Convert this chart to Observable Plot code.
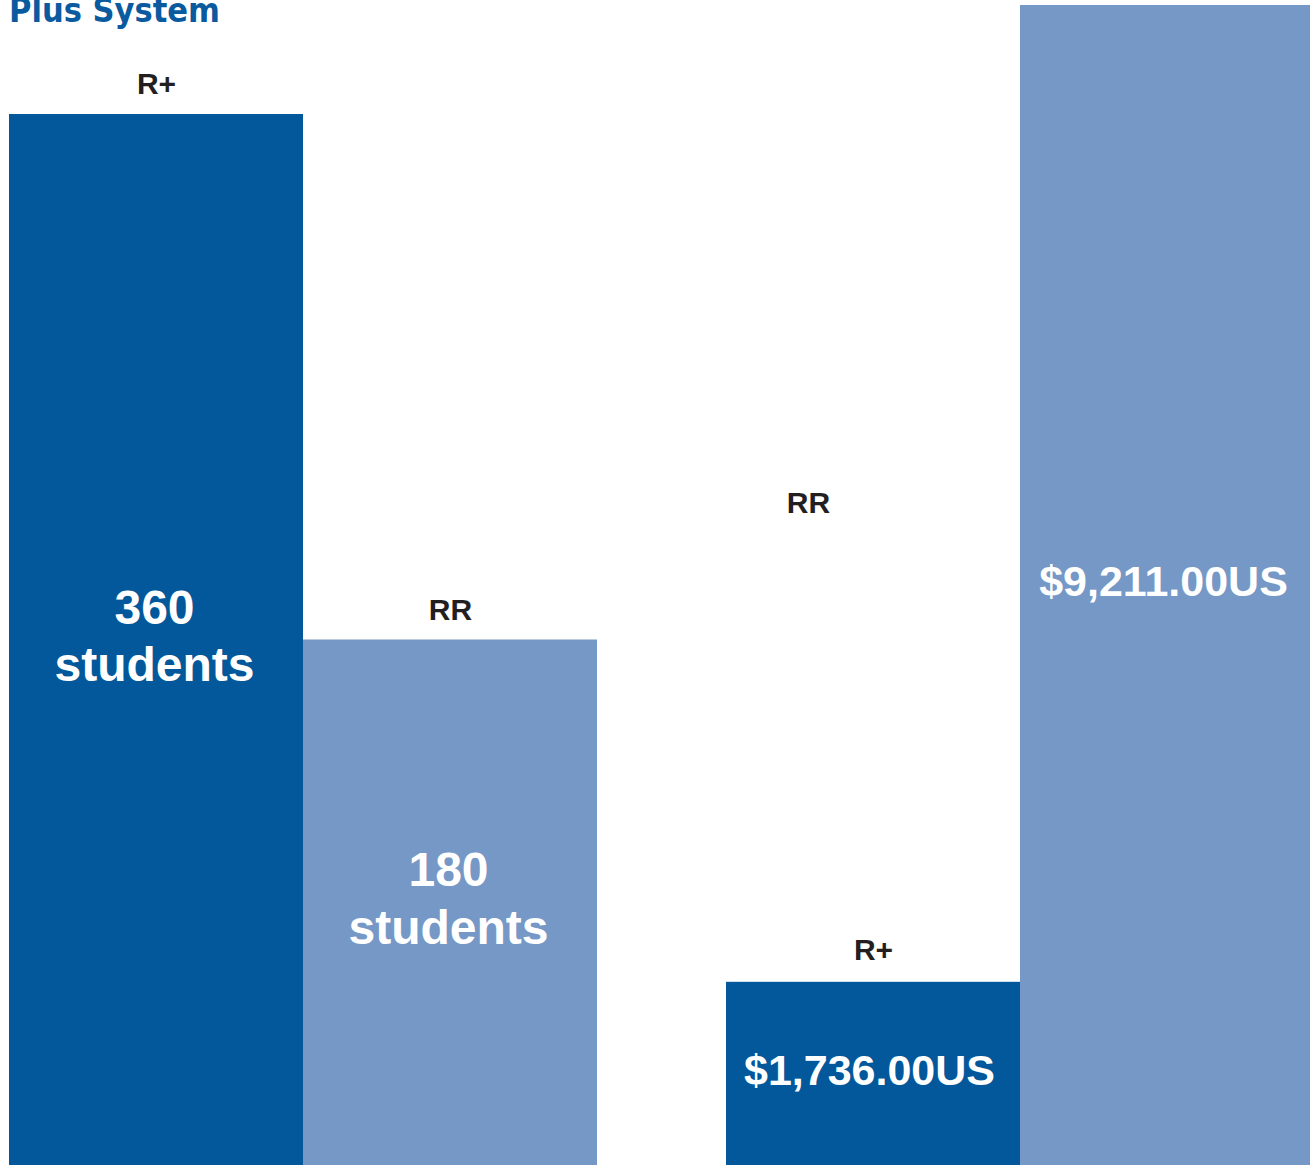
<!DOCTYPE html>
<html>
<head>
<meta charset="utf-8">
<script src="https://cdn.jsdelivr.net/npm/d3@7"></script>
<script src="https://cdn.jsdelivr.net/npm/@observablehq/plot@0.6"></script>
<style>
  html, body { margin: 0; padding: 0; background: #fff; overflow: hidden; }
  #wrap { position: relative; width: 1310px; height: 1165px; display: flex; overflow: hidden; }
  #wrap svg { flex: none; display: block; }
  #title { position: absolute; left: 9px; top: -8px; font: bold 34px "DejaVu Sans Condensed", "Liberation Sans Narrow", sans-serif;
           letter-spacing: 0px; line-height: 36px; color: #0a5aa0; white-space: nowrap; z-index: 2; }
</style>
</head>
<body>
<div id="wrap"><div id="title">Plus System</div></div>
<script>
// ---- data ----
const systems = ["R+", "RR"];
const studentCounts = [360, 180];
const studentLabels = ["360\nstudents", "180\nstudents"];
const costValues = [1736, 9211];
const costLabels = ["$1,736.00US", "$9,211.00US"];
const systemColors = ["#02589b", "#7698c6"];

const students = systems.map((s, i) => ({system: s, value: studentCounts[i], label: studentLabels[i]}));
const costs = systems.map((s, i) => ({system: s, value: costValues[i], label: costLabels[i]}));

const FONT = "'Liberation Sans', Arial, Helvetica, sans-serif";
const wrap = document.getElementById("wrap");

// ---- left panel: number of students ----
const left = Plot.plot({
  width: 726, height: 1165,
  marginLeft: 9, marginRight: 129, marginTop: 114, marginBottom: 0,
  style: {fontFamily: FONT, background: "transparent", overflow: "visible"},
  x: {domain: systems, padding: 0, axis: null},
  y: {domain: [0, 360], axis: null},
  color: {domain: systems, range: systemColors},
  marks: [
    Plot.barY(students, {x: "system", y: "value", fill: "system"}),
    Plot.text(students, {x: "system", y: "value", text: "system", dy: -30,
      fontSize: 30, fontWeight: "bold", fill: "#231f20"}),
    Plot.text(students, {x: "system", y: d => d.value / 2, text: "label",
      fontSize: 48, fontWeight: "bold", fill: "#ffffff", lineHeight: 1.2, dx: -2, dy: -6})
  ]
});
wrap.appendChild(left);

// ---- right panel: cost ----
const EXP = 1.106;
const costsAbove = costs.filter(d => d.system === "R+");
const right = Plot.plot({
  width: 588, height: 1165,
  marginLeft: 0, marginRight: 0, marginTop: 5, marginBottom: 0,
  style: {fontFamily: FONT, background: "transparent", overflow: "visible"},
  x: {domain: systems, padding: 0, axis: null},
  y: {type: "pow", exponent: EXP, domain: [0, 9211], axis: null},
  color: {domain: systems, range: systemColors},
  marks: [
    Plot.barY(costs, {x: "system", y: "value", fill: "system"}),
    Plot.text(costsAbove, {x: "system", y: "value", text: "system", dy: -32,
      fontSize: 30, fontWeight: "bold", fill: "#231f20"}),
    Plot.text(["RR"], {frameAnchor: "top-left", dx: 82, dy: 498, text: d => d,
      textAnchor: "middle", lineAnchor: "middle",
      fontSize: 30, fontWeight: "bold", fill: "#231f20"}),
    Plot.text(costs, {x: "system", y: d => Math.pow(Math.pow(d.value, EXP) / 2, 1 / EXP), text: "label",
      fontSize: 43, fontWeight: "bold", fill: "#ffffff", dx: -4, dy: -3})
  ]
});
wrap.appendChild(right);
</script>
</body>
</html>
